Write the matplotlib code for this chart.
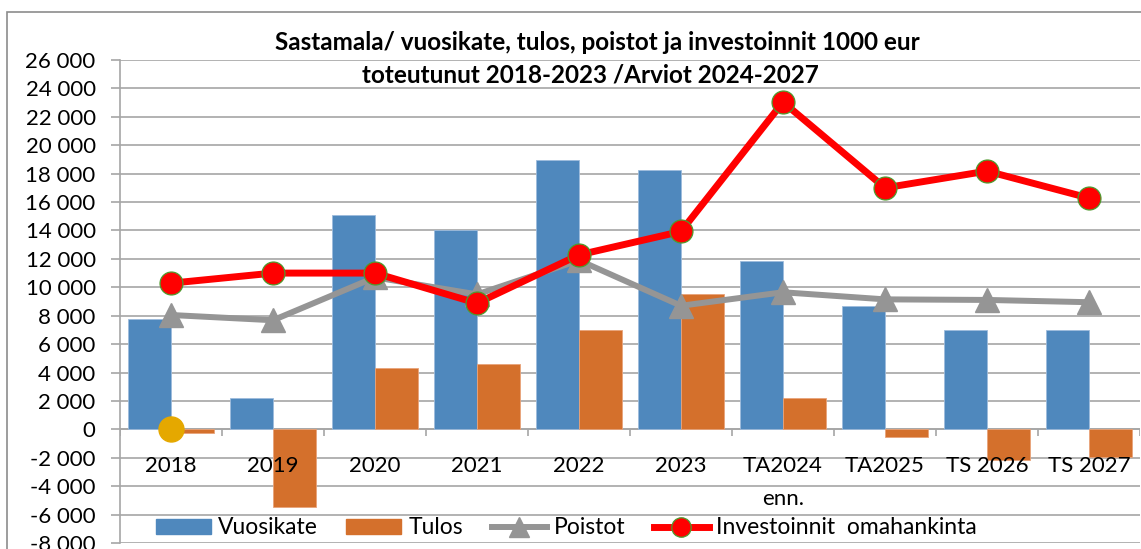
import matplotlib
matplotlib.use("Agg")
import matplotlib.pyplot as plt
from matplotlib.lines import Line2D
from matplotlib.patches import Patch, Rectangle
from matplotlib.ticker import FuncFormatter, MultipleLocator
import numpy as np

# ---------------------------------------------------------------------
# Data (1000 eur)
# ---------------------------------------------------------------------
categories = ["2018", "2019", "2020", "2021", "2022", "2023",
              "TA2024\nenn.", "TA2025", "TS 2026", "TS 2027"]
vuosikate = [7750, 2200, 15080, 14000, 18950, 18270, 11840, 8690, 7000, 7000]
tulos = [-260, -5480, 4340, 4600, 6980, 9510, 2200, -520, -2140, -1970]
poistot = [8050, 7680, 10700, 9500, 11900, 8700, 9650, 9150, 9110, 8950]
investoinnit = [10290, 11000, 11000, 8880, 12280, 13930, 23040, 17000, 18180, 16280]
extra_point = [0]          # lone marker at 2018

title_lines = ["Sastamala/ vuosikate, tulos, poistot ja investoinnit 1000 eur",
               "toteutunut 2018-2023 /Arviot 2024-2027"]

# ---------------------------------------------------------------------
# Style
# ---------------------------------------------------------------------
plt.rcParams["font.family"] = ["Lato", "DejaVu Sans"]
blue = "#4F88BD"
orange = "#D4702C"
grey = "#959595"
red = "#FF0000"
gold = "#E5A800"
grid_col = "#A6A6A6"
fs = 16

W, H = 1141, 549
fig = plt.figure(figsize=(W / 100, H / 100), dpi=100)
ax = fig.add_axes([120 / W, 1 - 543 / H, 1020 / W, 483 / H])

x = np.arange(len(categories))
bw = 0.42

ax.bar(x - bw / 2, vuosikate, bw, color=blue, edgecolor="#9DBBDC", linewidth=0.6, zorder=2)
ax.bar(x + bw / 2, tulos, bw, color=orange, edgecolor="#E8A37A", linewidth=0.6, zorder=2)

ax.plot(x, poistot, color=grey, linewidth=4.3, marker="^", markersize=17,
        markerfacecolor=grey, markeredgecolor=grey, zorder=3)
ax.plot(x, investoinnit, color=red, linewidth=5, marker="o", markersize=16.5,
        markerfacecolor=red, markeredgecolor="#4E9A2E", markeredgewidth=0.9, zorder=4)
ax.plot(x[:len(extra_point)], extra_point, linestyle="none", marker="o",
        markersize=18, color=gold, zorder=5)

ax.set_xlim(-0.5, len(categories) - 0.5)
ax.set_ylim(-8000, 26000)
ax.yaxis.set_major_locator(MultipleLocator(2000))
ax.yaxis.set_major_formatter(FuncFormatter(lambda v, p: f"{int(v):,}".replace(",", " ")))
ax.grid(axis="y", color=grid_col, linewidth=1.2, zorder=0)
ax.set_axisbelow(True)
ax.tick_params(axis="y", labelsize=fs, length=6.5, width=1.2, color=grid_col, pad=11)
ax.set_xticks([])

for s in ["top", "right", "bottom"]:
    ax.spines[s].set_visible(False)
ax.spines["left"].set_color(grid_col)
ax.spines["left"].set_linewidth(1.2)

# category axis at zero with its small tick marks
ax.axhline(0, color=grid_col, linewidth=1.2, zorder=1)
ax.vlines(np.arange(len(categories) + 1) - 0.5, -500, 0, color=grid_col, linewidth=1.2, zorder=1)

# category labels next to the zero line
for xi, lab in zip(x, categories):
    for i, line in enumerate(lab.split("\n")):
        ax.text(xi, -2990 - i * 2350, line, ha="center", va="baseline", fontsize=fs, zorder=6)

# title
fig.text(597 / W, 1 - 43 / H, title_lines[0], ha="center", va="center",
         fontsize=17.5, fontweight="bold")
fig.text(590 / W, 1 - 75 / H, title_lines[1], ha="center", va="center",
         fontsize=17.5, fontweight="bold")

# legend
handles = [
    Patch(facecolor=blue, edgecolor=blue),
    Patch(facecolor=orange, edgecolor=orange),
    Line2D([], [], color=grey, linewidth=4.3, marker="^", markersize=14, markerfacecolor=grey),
    Line2D([], [], color=red, linewidth=5, marker="o", markersize=14,
           markerfacecolor=red, markeredgecolor="#4E9A2E", markeredgewidth=0.9),
]
labels = ["Vuosikate", "Tulos", "Poistot", "Investoinnit  omahankinta"]
fig.legend(handles, labels, loc="center left", bbox_to_anchor=(156 / W, 1 - 528 / H),
           ncol=4, frameon=False, fontsize=16.5, handlelength=2.4, handleheight=0.65,
           handletextpad=0.3, columnspacing=1.25, borderpad=0, borderaxespad=0)

# outer chart frame
fig.patches.append(Rectangle((7 / W, -0.1), 1.2, 1.1 - 12 / H, transform=fig.transFigure,
                             fill=False, edgecolor="#8C8C8C", linewidth=1.2))

fig.savefig("out.png", dpi=100)
